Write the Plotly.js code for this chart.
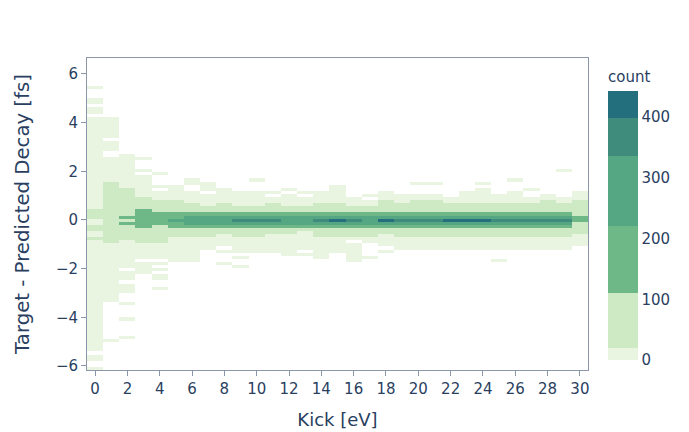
<!DOCTYPE html>
<html>
<head>
<meta charset="utf-8">
<script src="https://cdn.plot.ly/plotly-3.0.1.min.js"></script>
<style>
  html, body { margin: 0; padding: 0; background: #fff; }
  #chart { width: 689px; height: 432px; }
</style>
</head>
<body>
<div id="chart"></div>
<script>
// Kick bins (eV): one column per integer kick value
const kick = [0,1,2,3,4,5,6,7,8,9,10,11,12,13,14,15,16,17,18,19,20,21,22,23,24,25,26,27,28,29,30];

// Vertical binning of the residual (fs)
const yBinStart = -6.166;
const yBinSize = 0.12693;
const yBinCount = 101;

// Counts per kick column, as [residual from, residual to, count] runs.
// Later runs overwrite earlier ones where they overlap.
const k00 = [[-6.13,-6.02,3],[-5.82,-5.50,5],[-5.41,3.85,12],[3.92,4.26,6],[4.36,4.60,4],[4.72,5.00,5],[5.38,5.49,2],[0.02,0.40,34],[-0.45,-0.21,30],[-0.86,-0.69,26]];
const k01 = [[-5.00,-4.85,3],[-3.36,-3.18,4],[-3.13,-0.94,14],[-0.94,1.56,60],[1.56,2.62,14],[2.82,3.18,6],[3.35,3.85,6],[3.92,4.26,5]];
const k02 = [[1.32,2.73,10],[-0.83,1.32,55],[0.06,0.16,130],[-0.18,-0.08,130],[-1.92,-0.83,12],[-2.47,-2.13,5],[-2.72,-2.60,3],[-2.98,-2.79,4],[-3.47,-3.33,3],[-4.11,-3.98,2],[-4.86,-4.76,2]];
const k03 = [[-2.20,-1.72,8],[-1.60,-0.94,14],[-0.94,-0.32,65],[-0.32,0.44,150],[0.44,0.91,60],[0.91,1.87,12],[1.98,2.09,3],[2.48,2.62,3]];
const k04 = [[-2.85,-2.72,3],[-2.47,-2.27,4],[-2.13,-1.99,4],[-1.85,-1.72,5],[-1.60,-0.90,14],[-0.90,-0.21,70],[-0.21,0.33,170],[0.33,0.81,60],[0.81,1.21,14],[1.32,1.46,5],[1.87,1.98,3]];
const k05 = [[-1.69,1.43,12],[-0.72,0.81,60],[-0.27,0.31,170],[-0.07,0.05,250]];
const k06 = [[-1.69,1.22,12],[1.44,1.66,4],[-0.72,0.68,65],[-0.27,0.31,175],[-0.20,0.18,240]];
const k07 = [[-1.20,1.09,12],[1.19,1.54,5],[-0.72,0.61,65],[-0.27,0.31,180],[-0.20,0.18,250]];
const k08 = [[-1.31,-1.19,5],[-1.06,1.32,12],[-1.83,-1.72,3],[-0.56,0.70,60],[-0.27,0.31,185],[-0.20,0.18,255]];
const k09 = [[-1.40,1.19,12],[-1.58,-1.49,4],[-1.97,-1.83,3],[-0.72,0.60,62],[-0.27,0.31,190],[-0.20,0.18,265],[-0.07,0.05,350]];
const k10 = [[-1.40,1.15,12],[1.56,1.66,3],[-0.72,0.60,62],[-0.27,0.31,190],[-0.20,0.18,270],[-0.07,0.05,355]];
const k11 = [[-1.30,0.95,12],[1.09,1.19,4],[-0.56,0.70,60],[-0.27,0.31,190],[-0.20,0.18,265],[-0.07,0.05,345]];
const k12 = [[-1.49,1.09,11],[1.19,1.32,4],[-0.56,0.56,58],[-0.27,0.31,185],[-0.20,0.18,260]];
const k13 = [[-1.49,-1.38,4],[-1.19,0.95,11],[1.09,1.19,4],[-0.45,0.60,55],[-0.27,0.31,185],[-0.20,0.18,260]];
const k14 = [[-1.58,1.19,12],[-0.72,0.68,62],[-0.27,0.31,195],[-0.20,0.18,275],[-0.07,0.05,360]];
const k15 = [[-1.35,1.43,12],[-0.72,0.68,62],[-0.27,0.31,200],[-0.20,0.18,290],[-0.07,0.05,420]];
const k16 = [[-1.72,-0.94,10],[-0.83,0.95,12],[-0.72,0.54,58],[-0.27,0.31,190],[-0.20,0.18,270],[-0.07,0.05,350]];
const k17 = [[-1.58,-1.49,4],[-1.00,0.81,11],[0.95,1.09,4],[-0.72,0.56,58],[-0.27,0.31,185],[-0.20,0.18,265]];
const k18 = [[-1.33,-1.24,4],[-1.10,1.19,12],[-0.62,0.81,62],[-0.27,0.31,195],[-0.20,0.18,275],[-0.07,0.05,410]];
const k19 = [[-1.20,1.09,11],[-0.72,0.70,60],[-0.27,0.31,190],[-0.20,0.18,265],[-0.07,0.05,340]];
const k20 = [[-1.20,1.09,11],[1.46,1.54,4],[-0.72,0.81,62],[-0.27,0.36,200],[-0.20,0.18,275],[-0.07,0.05,350]];
const k21 = [[-1.20,1.09,11],[1.46,1.54,4],[-0.72,0.81,62],[-0.27,0.31,195],[-0.20,0.18,270],[-0.07,0.05,350]];
const k22 = [[-1.20,0.95,11],[-0.72,0.68,60],[-0.27,0.31,200],[-0.20,0.18,285],[-0.07,0.05,425]];
const k23 = [[-1.25,1.19,12],[-0.72,0.68,62],[-0.27,0.31,205],[-0.20,0.18,295],[-0.07,0.05,443]];
const k24 = [[-1.25,1.32,12],[1.46,1.54,4],[-0.72,0.68,60],[-0.27,0.31,200],[-0.20,0.18,285],[-0.07,0.05,415]];
const k25 = [[-1.72,-1.61,3],[-1.25,1.09,11],[-0.72,0.68,58],[-0.27,0.31,190],[-0.20,0.18,270],[-0.07,0.05,350]];
const k26 = [[-1.25,1.19,11],[1.56,1.66,3],[-0.72,0.68,58],[-0.27,0.31,190],[-0.20,0.18,270],[-0.07,0.05,345]];
const k27 = [[-1.25,0.95,11],[1.19,1.29,4],[-0.72,0.68,58],[-0.27,0.31,190],[-0.20,0.18,265],[-0.07,0.05,345]];
const k28 = [[-1.25,1.09,11],[-0.72,0.81,58],[-0.27,0.31,190],[-0.20,0.18,265],[-0.07,0.05,345]];
const k29 = [[-1.25,0.95,11],[1.97,2.07,3],[-0.72,0.68,58],[-0.27,0.31,190],[-0.20,0.18,265],[-0.07,0.05,345]];
const k30 = [[-1.10,1.19,10],[-0.62,0.81,50],[-0.08,0.16,150]];

const columns = [k00,k01,k02,k03,k04,k05,k06,k07,k08,k09,k10,k11,k12,k13,k14,k15,
                 k16,k17,k18,k19,k20,k21,k22,k23,k24,k25,k26,k27,k28,k29,k30];

// Stepped colour scale for the count bands
const bandColors = ['#e9f5e1', '#cdeac5', '#6db886', '#55a683', '#3f8b7c', '#246f7e'];
const bandEdges = [0, 0.045, 0.25, 0.5, 0.76, 0.9, 1];

// Fill the count grid: empty bins stay null so they are left blank
const z = [];
for (let r = 0; r < yBinCount; r++) z.push(new Array(kick.length).fill(null));
columns.forEach((runs, c) => {
  runs.forEach(([lo, hi, n]) => {
    for (let r = 0; r < yBinCount; r++) {
      const yc = yBinStart + (r + 0.5) * yBinSize;
      if (yc >= lo && yc <= hi) z[r][c] = n;
    }
  });
});
const zMax = Math.max(...z.flat().filter(v => v !== null));

const colorscale = [];
bandColors.forEach((col, i) => {
  colorscale.push([bandEdges[i], col]);
  colorscale.push([bandEdges[i + 1], col]);
});

const axisLine = '#8b96a8';
const fontColor = '#2a3f5f';

const trace = {
  type: 'heatmap',
  x: kick,
  y0: yBinStart + yBinSize / 2,
  dy: yBinSize,
  z: z,
  zmin: 0,
  zmax: zMax,
  colorscale: colorscale,
  hoverongaps: false,
  colorbar: {
    title: { text: 'count', side: 'top', font: { size: 15, color: fontColor } },
    thickness: 30,
    outlinewidth: 0,
    ticks: '',
    dtick: 100,
    tick0: 0,
    tickfont: { size: 15, color: fontColor }
  }
};

const axisCommon = {
  showline: true,
  mirror: true,
  linecolor: axisLine,
  linewidth: 1,
  ticks: 'outside',
  tickcolor: axisLine,
  ticklen: 5,
  showgrid: false,
  zeroline: false,
  tickfont: { size: 15, color: fontColor }
};

const layout = {
  width: 689,
  height: 432,
  margin: { l: 87, r: 101, t: 58, b: 62 },
  paper_bgcolor: '#ffffff',
  plot_bgcolor: '#ffffff',
  font: { family: 'DejaVu Sans, sans-serif', size: 15, color: fontColor },
  xaxis: Object.assign({}, axisCommon, {
    automargin: false,
    title: { text: 'Kick [eV]', standoff: 16, font: { size: 18, color: fontColor } },
    tick0: 0,
    dtick: 2
  }),
  yaxis: Object.assign({}, axisCommon, {
    automargin: true,
    title: { text: 'Target - Predicted Decay [fs]', standoff: 20, font: { size: 19.7, color: fontColor } },
    tick0: 0,
    dtick: 2
  })
};

Plotly.newPlot('chart', [trace], layout, { displayModeBar: false, staticPlot: true });
</script>
</body>
</html>
